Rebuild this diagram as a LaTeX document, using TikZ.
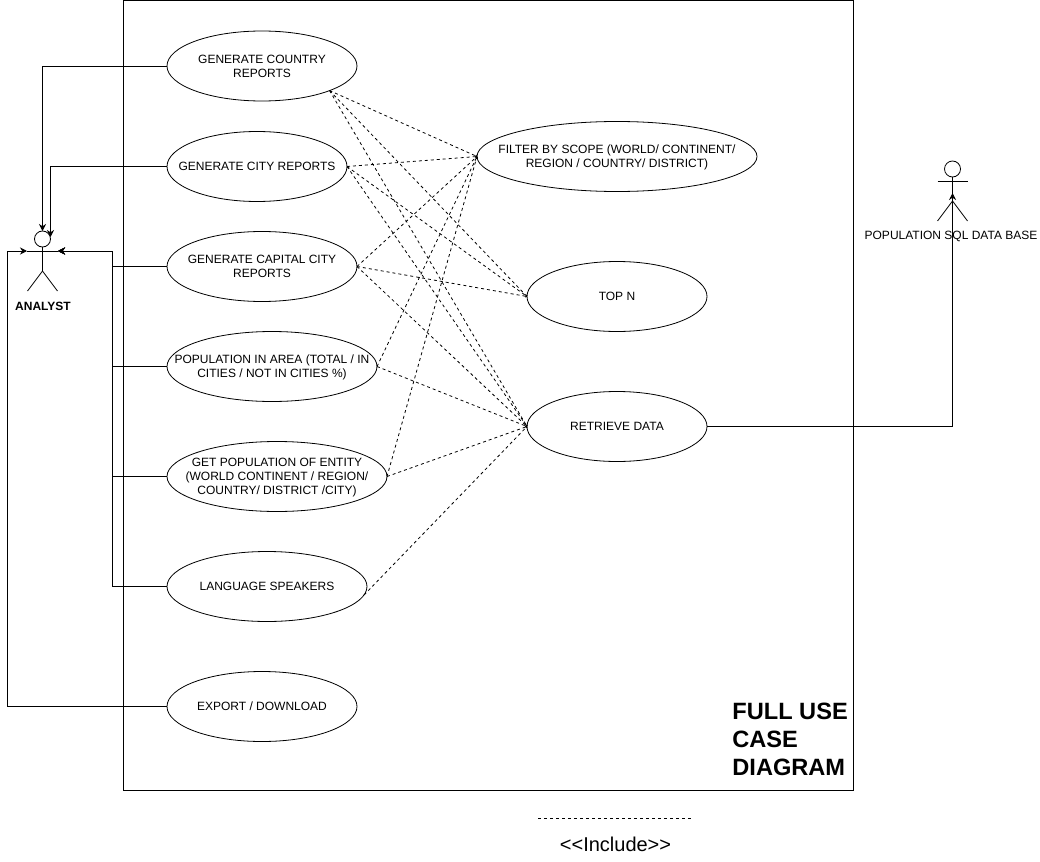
\documentclass[tikz,border=0pt]{standalone}
\usepackage{fontspec}
\setmainfont{Liberation Sans}
\usetikzlibrary{arrows.meta,shapes.geometric}
\tikzset{
  usecase/.style={draw, ellipse, align=center, inner xsep=-50pt, inner ysep=-20pt, outer sep=0pt, text depth=-2pt, font=\fontsize{12}{14}\selectfont},
  assoc/.style={-{Stealth[length=7pt,width=7pt]}},
  incl/.style={dash pattern=on 3pt off 3pt, -{Stealth[length=1.5pt,width=3pt]}},
  actorhead/.style={draw, circle, minimum size=16pt, inner sep=0pt, outer sep=0pt},
}
\begin{document}
\begin{tikzpicture}[x=1pt,y=-1pt,line width=0.8pt]
  \useasboundingbox (0,0) rectangle (1040,861);
  \node[draw, minimum width=730pt, minimum height=790pt, inner sep=0pt, outer sep=0pt] (frame) at (488.5,395) {};

  \node[usecase, minimum width=190pt, minimum height=70pt] (country) at (262,66) {GENERATE COUNTRY\\REPORTS};
  \node[usecase, minimum width=180pt, minimum height=70pt] (city) at (257,166.5) {GENERATE CITY REPORTS};
  \node[usecase, minimum width=190pt, minimum height=70pt] (capital) at (262,266.5) {GENERATE CAPITAL CITY\\REPORTS};
  \node[usecase, minimum width=210pt, minimum height=70pt] (area) at (272,366.5) {POPULATION IN AREA (TOTAL / IN\\CITIES / NOT IN CITIES \%)};
  \node[usecase, minimum width=220pt, minimum height=70pt] (entity) at (277,476.5) {GET POPULATION OF ENTITY\\(WORLD CONTINENT / REGION/\\COUNTRY/ DISTRICT /CITY)};
  \node[usecase, minimum width=200pt, minimum height=70pt] (language) at (267,586.5) {LANGUAGE SPEAKERS};
  \node[usecase, minimum width=190pt, minimum height=70pt] (export) at (262,706.5) {EXPORT / DOWNLOAD};

  \node[usecase, minimum width=280pt, minimum height=70pt] (filter) at (617,156.5) {FILTER BY SCOPE (WORLD/ CONTINENT/\\REGION / COUNTRY/ DISTRICT)};
  \node[usecase, minimum width=180pt, minimum height=70pt] (topn) at (617,296.5) {TOP N};
  \node[usecase, minimum width=180pt, minimum height=70pt] (retrieve) at (617,426.5) {RETRIEVE DATA};

  % analyst
  \node[actorhead] (analyst) at (42.5,239) {};
  \coordinate (analysthip) at (42.5,271);
  \coordinate (analystl) at (27,251);
  \coordinate (analystr) at (58,251);
  \coordinate (analystin) at (50.5,237);
  \draw (analyst) -- (analysthip);
  \draw (analystl) -- (analystr);
  \draw (analysthip) -- ++(-15,20);
  \draw (analysthip) -- ++(15,20);
  \node[font=\fontsize{12}{14}\selectfont\bfseries, inner sep=0pt] (analystlabel) at (43,306) {ANALYST};

  % data base
  \node[actorhead] (database) at (952.5,169) {};
  \coordinate (databasehip) at (952.5,201);
  \coordinate (databasein) at (952.5,193);
  \draw (database) -- (databasehip);
  \draw (937.5,181) -- (967.5,181);
  \draw (databasehip) -- ++(-15,20);
  \draw (databasehip) -- ++(15,20);
  \node[font=\fontsize{12}{14}\selectfont, inner sep=0pt] (databaselabel) at (951,236) {POPULATION SQL DATA BASE};

  \draw[assoc] (country.west) -| (analyst.north);
  \draw[assoc] (city.west) -| (analystin);
  \draw[assoc] (capital.west) -- ++(-54.5,0) |- (analystr);
  \draw[assoc] (area.west) -- ++(-54.5,0) |- (analystr);
  \draw[assoc] (entity.west) -- ++(-54.5,0) |- (analystr);
  \draw[assoc] (language.west) -- ++(-54.5,0) |- (analystr);
  \draw[assoc] (export.west) -- ++(-159.5,0) |- (analystl);
  \draw[assoc] (retrieve.east) -| (databasein);

  \draw[incl] (country.-20) -- (filter.west);
  \draw[incl] (country.-20) -- (topn.west);
  \draw[incl] (country.-20) -- (retrieve.west);
  \draw[incl] (city.east) -- (filter.west);
  \draw[incl] (city.east) -- (topn.west);
  \draw[incl] (city.east) -- (retrieve.west);
  \draw[incl] (capital.east) -- (filter.west);
  \draw[incl] (capital.east) -- (topn.west);
  \draw[incl] (capital.east) -- (retrieve.west);
  \draw[incl] (area.east) -- (filter.west);
  \draw[incl] (area.east) -- (retrieve.west);
  \draw[incl] (entity.east) -- (filter.west);
  \draw[incl] (entity.east) -- (retrieve.west);
  \draw[incl] (language.-5) -- (retrieve.west);

  \node[font=\fontsize{23.6}{28}\selectfont\bfseries, align=left, anchor=north west, inner sep=0pt] (title) at (732,703) {FULL USE\\CASE\\DIAGRAM};

  \coordinate (legendl) at (538,818.5);
  \coordinate (legendr) at (691,818.5);
  \draw[dash pattern=on 3pt off 3pt] (legendl) -- (legendr);
  \node[font=\fontsize{20}{24}\selectfont, inner sep=0pt] (legend) at (615.5,844) {<{}<Include>{}>};
\end{tikzpicture}
\end{document}
